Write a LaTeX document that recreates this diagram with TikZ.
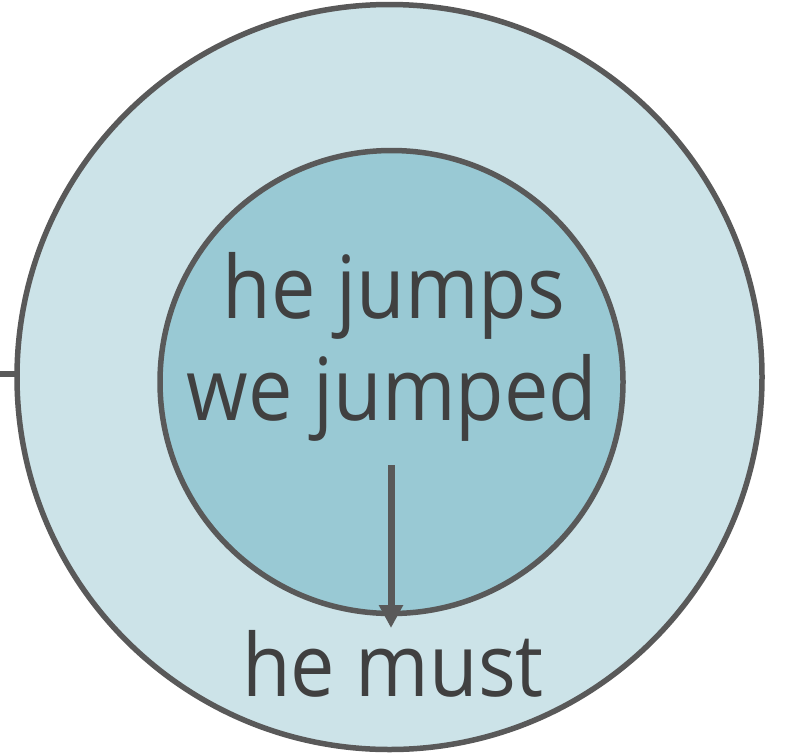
\documentclass[tikz,border=0pt]{standalone}
\usepackage{fontspec}
\setmainfont[FakeStretch=0.91]{Open Sans}
\usetikzlibrary{arrows.meta}
\definecolor{outerfill}{HTML}{CCE3E8}
\definecolor{innerfill}{HTML}{99C9D4}
\definecolor{strokegray}{HTML}{595959}
\definecolor{textgray}{HTML}{404040}
\tikzset{
  ring/.style={circle, draw=strokegray, line width=5.5pt, inner sep=0pt, outer sep=0pt},
  bigtext/.style={text=textgray, font=\fontsize{87}{100}\selectfont, inner sep=0pt, anchor=base},
  connector/.style={draw=strokegray, line width=7pt},
}
\begin{document}
\begin{tikzpicture}[x=1pt, y=-1pt]
\useasboundingbox (0,0) rectangle (786,755);
\node[ring, fill=outerfill, minimum size=745pt] (outer) at (389.5,377) {};
\node[ring, fill=innerfill, minimum size=463pt] (inner) at (391.5,382) {};
\node[bigtext] (l1) at (394,318) {he jumps};
\node[bigtext] (l2) at (392,420) {we jumped};
\node[bigtext] (l3) at (393,696) {he must};
\coordinate (astart) at (391,465);
\coordinate (atip) at (391,628);
\coordinate (lstub) at (0,374);
\draw[connector, -{Triangle[width=23pt,length=23pt]}] (astart) -- (atip);
\draw[draw=strokegray, line width=6pt] (lstub) -- (lstub -| outer.west);
\end{tikzpicture}
\end{document}
